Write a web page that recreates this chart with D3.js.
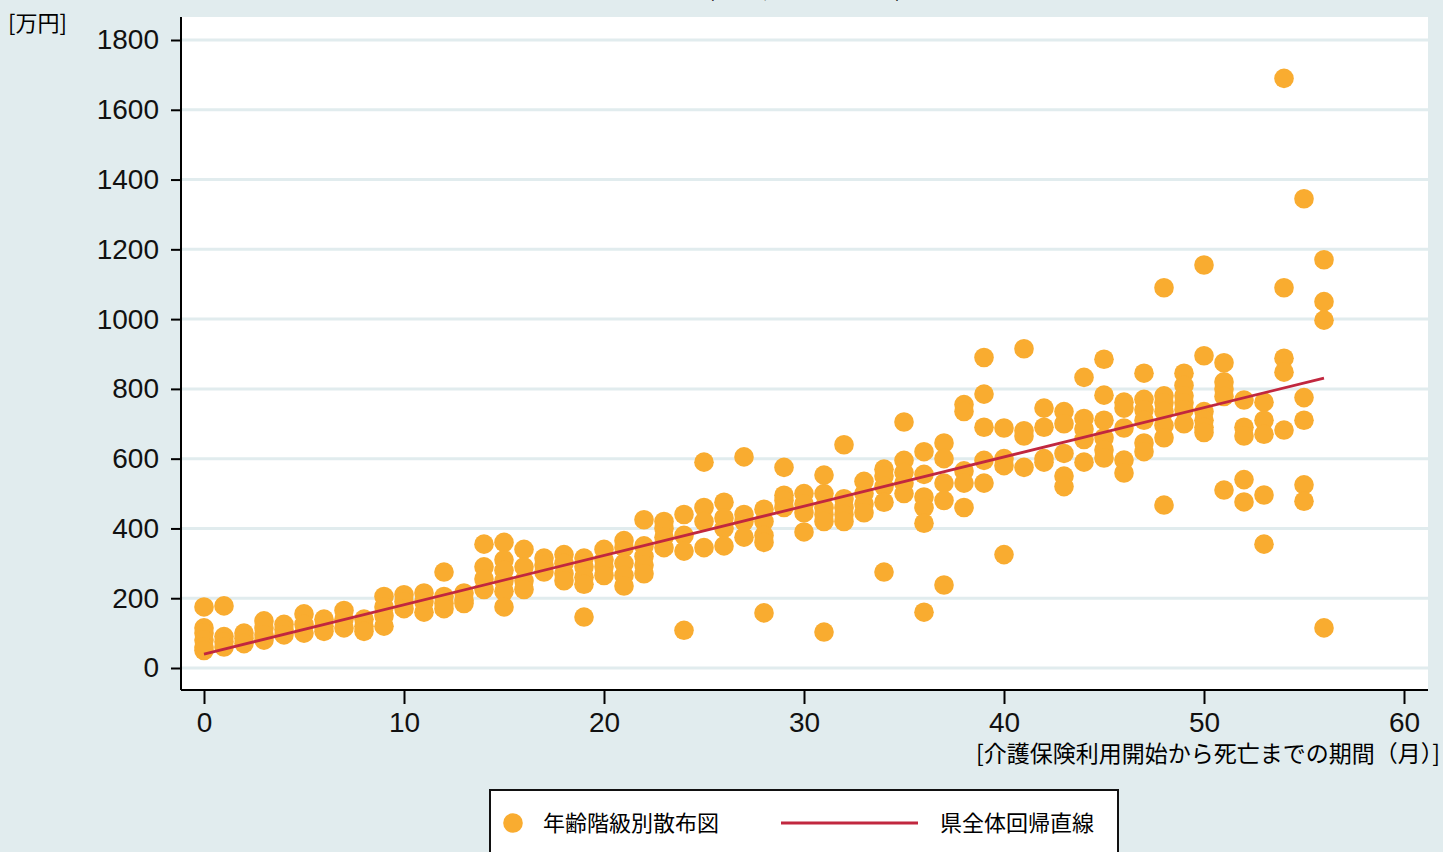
<!DOCTYPE html>
<html>
<head>
<meta charset="utf-8">
<script src="https://cdn.jsdelivr.net/npm/d3@7"></script>
<style>
  body { margin: 0; background: #e1ecee; overflow: hidden; }
  text { font-family: "Liberation Sans", Arial, sans-serif; }
  .jp { font-family: "Noto Sans CJK JP", "Noto Sans", sans-serif; }
</style>
</head>
<body>
<div class="chart"></div>
<script>
const chart = d3.select('.chart');

const width = 1443;
const height = 852;

// months from care insurance start to death, and cost in 万円 (one list per month)
var months = [];
for (var m = 0; m <= 56; m++) months.push(m);

var costs = [
  [175, 115, 100, 80, 60, 50],
  [178, 90, 75, 60],
  [100, 85, 70],
  [135, 115, 95, 80],
  [125, 110, 95],
  [155, 125, 100],
  [140, 120, 105],
  [165, 140, 115],
  [140, 120, 105],
  [205, 175, 150, 120],
  [210, 190, 170],
  [215, 190, 160],
  [275, 205, 185, 170],
  [215, 195, 185],
  [355, 290, 255, 225],
  [360, 310, 280, 250, 220, 175],
  [340, 290, 250, 225],
  [315, 295, 275],
  [325, 300, 270, 250],
  [315, 290, 260, 240, 146],
  [340, 310, 290, 265],
  [365, 345, 300, 265, 235],
  [425, 350, 320, 295, 270],
  [420, 400, 375, 345],
  [440, 380, 335, 108],
  [590, 460, 420, 345],
  [475, 430, 400, 350],
  [605, 440, 420, 375],
  [455, 420, 380, 360, 158],
  [575, 495, 480, 460],
  [500, 470, 445, 390],
  [553, 500, 460, 440, 420, 103],
  [640, 485, 460, 440, 420],
  [535, 500, 470, 445],
  [570, 550, 520, 475, 275],
  [705, 595, 560, 530, 500],
  [620, 555, 490, 460, 415, 160],
  [645, 600, 530, 480, 238],
  [755, 735, 565, 530, 460],
  [890, 785, 690, 595, 530],
  [688, 600, 580, 325],
  [915, 680, 665, 575],
  [745, 690, 600, 590],
  [735, 700, 615, 550, 520],
  [833, 715, 685, 655, 590],
  [885, 782, 710, 660, 625, 602],
  [762, 745, 688, 596, 559],
  [845, 770, 740, 710, 645, 620],
  [1090, 780, 760, 735, 695, 660, 467],
  [845, 810, 780, 760, 740, 700],
  [1155, 895, 735, 710, 690, 675],
  [875, 820, 800, 778, 510],
  [768, 690, 665, 540, 476],
  [762, 710, 670, 496, 355],
  [1690, 1090, 888, 848, 682],
  [1345, 775, 710, 525, 478],
  [1170, 1050, 997, 115]
];

// regression line end points
var lineX = [0, 56];
var lineY = [40, 831];

var yTicks = [0, 200, 400, 600, 800, 1000, 1200, 1400, 1600, 1800];
var xTicks = [0, 10, 20, 30, 40, 50, 60];

var yUnit = '[万円]';
var xTitle = '[介護保険利用開始から死亡までの期間（月）]';
var legendLabels = ['年齢階級別散布図', '県全体回帰直線'];
var title = '(全体, 年齢階級別)';

const dotColor = '#f9ac30';
const lineColor = '#c1273f';
const gridColor = '#e1ecee';

var points = [];
months.forEach((m, i) => {
  costs[i].forEach(v => points.push({x: m, y: v}));
});

const plotLeft = 181, plotRight = 1428, plotTop = 17, plotBottom = 690;

const x = d3.scaleLinear().domain([0, 60]).range([204, 1404]);
const y = d3.scaleLinear().domain([0, 1800]).range([668, 40]);

const svg = chart.append('svg')
  .attr('width', width)
  .attr('height', height);

svg.append('rect')
  .attr('width', width).attr('height', height)
  .attr('fill', '#e1ecee');

// title sits mostly above the page edge, as in the original
svg.append('text')
  .attr('class', 'jp')
  .attr('x', 805).attr('y', -4)
  .attr('text-anchor', 'middle')
  .attr('font-size', 24)
  .text(title);

// plot area
svg.append('rect')
  .attr('x', plotLeft).attr('y', plotTop)
  .attr('width', plotRight - plotLeft).attr('height', plotBottom - plotTop)
  .attr('fill', 'white');

svg.selectAll('line.grid')
  .data(yTicks)
  .enter().append('line')
  .attr('class', 'grid')
  .attr('x1', plotLeft).attr('x2', plotRight)
  .attr('y1', d => y(d)).attr('y2', d => y(d))
  .style('stroke', gridColor)
  .style('stroke-width', 3);

svg.selectAll('circle.pt')
  .data(points)
  .enter().append('circle')
  .attr('class', 'pt')
  .attr('cx', d => x(d.x))
  .attr('cy', d => y(d.y))
  .attr('r', 9.8)
  .attr('fill', dotColor);

svg.append('line')
  .attr('x1', x(lineX[0])).attr('y1', y(lineY[0]))
  .attr('x2', x(lineX[1])).attr('y2', y(lineY[1]))
  .style('stroke', lineColor)
  .style('stroke-width', 2.8);

// axes
const yAxis = svg.append('g')
  .attr('transform', `translate(${plotLeft},0)`)
  .call(d3.axisLeft(y).tickValues(yTicks).tickSize(10).tickPadding(12).tickFormat(d3.format('d')));
yAxis.select('.domain').attr('d', `M0,${plotTop}V${plotBottom}`).attr('stroke-width', 2);

const xAxis = svg.append('g')
  .attr('transform', `translate(0,${plotBottom})`)
  .call(d3.axisBottom(x).tickValues(xTicks).tickSize(14).tickPadding(8).tickFormat(d3.format('d')));
xAxis.select('.domain').attr('d', `M${plotLeft},0H${plotRight}`).attr('stroke-width', 2);

svg.selectAll('.tick line').attr('stroke-width', 2);
svg.selectAll('.tick text')
  .attr('font-family', '"Liberation Sans", Arial, sans-serif')
  .attr('font-size', 28)
  .attr('fill', '#111');

svg.append('text')
  .attr('class', 'jp')
  .attr('x', 8).attr('y', 31)
  .attr('font-size', 22)
  .text(yUnit);

svg.append('text')
  .attr('class', 'jp')
  .attr('x', 1440).attr('y', 762)
  .attr('text-anchor', 'end')
  .attr('font-size', 23)
  .text(xTitle);

// legend
const legend = svg.append('g');
legend.append('rect')
  .attr('x', 490).attr('y', 790)
  .attr('width', 628).attr('height', 80)
  .attr('fill', 'white')
  .attr('stroke', '#111')
  .attr('stroke-width', 2);
legend.append('circle')
  .attr('cx', 513).attr('cy', 823).attr('r', 9.8)
  .attr('fill', dotColor);
legend.append('text')
  .attr('class', 'jp')
  .attr('x', 543).attr('y', 831)
  .attr('font-size', 22)
  .text(legendLabels[0]);
legend.append('line')
  .attr('x1', 781).attr('x2', 918)
  .attr('y1', 823).attr('y2', 823)
  .style('stroke', lineColor)
  .style('stroke-width', 2.8);
legend.append('text')
  .attr('class', 'jp')
  .attr('x', 940).attr('y', 831)
  .attr('font-size', 22)
  .text(legendLabels[1]);
</script>
</body>
</html>
